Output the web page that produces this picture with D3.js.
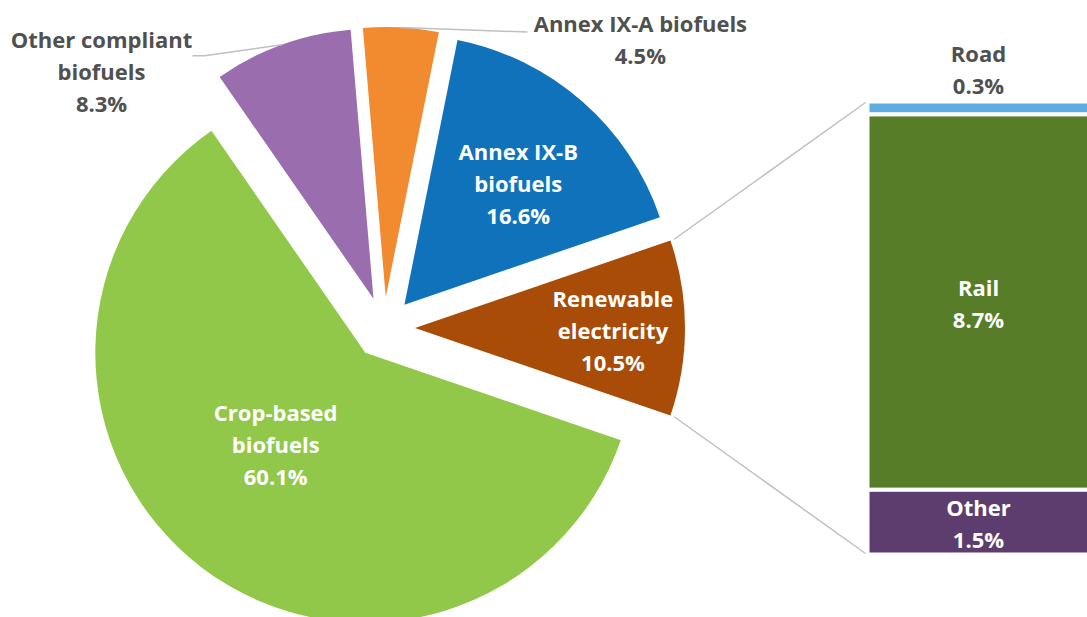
<!doctype html>
<html>
<head>
<meta charset="UTF-8">
<title>Pie of bar</title>
<script src="https://d3js.org/d3.v7.min.js"></script>
<style>
    body { margin: 0; background: #fff; }
    svg text { font-family: "Open Sans", sans-serif; font-weight: 700; font-size: 22px; }
</style>
</head>
<body>
<script>
    // pie data (clockwise, starting with the slice that is split out into the bar)
    var sliceNames = ["Renewable electricity", "Crop-based biofuels", "Other compliant biofuels", "Annex IX-A biofuels", "Annex IX-B biofuels"];
    var sliceValues = [10.5, 60.1, 8.3, 4.5, 16.6];
    var sliceLines = [["Renewable", "electricity"], ["Crop-based", "biofuels"], ["Other compliant", "biofuels"], ["Annex IX-A biofuels"], ["Annex IX-B", "biofuels"]];

    // bar data (top to bottom)
    var barNames = ["Road", "Rail", "Other"];
    var barValues = [0.3, 8.7, 1.5];

    var w = 1087, h = 617;
    var cx = 384, cy = 328, radius = 270, explode = 31;
    var lineH = 32;

    var sliceColors = {
        "Renewable electricity": "#a84c08",
        "Crop-based biofuels": "#92c84a",
        "Other compliant biofuels": "#9a6dae",
        "Annex IX-A biofuels": "#f28a30",
        "Annex IX-B biofuels": "#1172bc"
    };
    var barColors = { "Road": "#5dade0", "Rail": "#577d28", "Other": "#5d3d6d" };

    // label placement: polar from the exploded tip (angle deg, distance px)
    var labelPlace = {
        "Renewable electricity": { a: 91, r: 198, inside: true },
        "Crop-based biofuels": { a: 224, r: 129, inside: true },
        "Annex IX-B biofuels": { a: 43.3, r: 166, inside: true },
        "Other compliant biofuels": { a: 309.8, r: 354, inside: false, lead: [[91, -16.5], [103, -16.5]] },
        "Annex IX-A biofuels": { a: 44.7, r: 362, inside: false, lead: [[-113, -7.7]] }
    };

    var svg = d3.select("body").append("svg")
        .attr("width", w)
        .attr("height", h);

    var fullTotal = d3.sum(sliceValues);
    var start = Math.PI / 2 - Math.PI * sliceValues[0] / fullTotal;

    var pie = d3.pie().sort(null).value(function (d) { return d; })
        .startAngle(start).endAngle(start + 2 * Math.PI);
    var arcs = pie(sliceValues);
    var arc = d3.arc().innerRadius(0).outerRadius(radius);

    function polar(a, r) { return [Math.sin(a) * r, -Math.cos(a) * r]; }

    arcs.forEach(function (d, i) {
        var mid = (d.startAngle + d.endAngle) / 2;
        var off = polar(mid, explode);
        d.tip = [cx + off[0], cy + off[1]];
        d.mid = mid;
        d.name = sliceNames[i];
    });

    var slices = svg.append("g");
    slices.selectAll("path")
        .data(arcs)
        .enter()
        .append("path")
        .attr("transform", function (d) { return "translate(" + d.tip[0] + "," + d.tip[1] + ")"; })
        .attr("d", arc)
        .attr("fill", function (d) { return sliceColors[d.name]; });

    // bar
    var barTotal = d3.sum(barValues);
    var barX = 867.5, barW = 222;
    var y = d3.scaleLinear().domain([0, barTotal]).range([101.5, 554.5]);
    var cum = 0;
    var segs = barValues.map(function (v, i) {
        var s = { name: barNames[i], value: v, y0: cum, y1: cum + v };
        cum += v;
        return s;
    });

    svg.append("g").selectAll("rect")
        .data(segs)
        .enter()
        .append("rect")
        .attr("x", barX)
        .attr("y", function (d) { return y(d.y0); })
        .attr("width", barW)
        .attr("height", function (d) { return y(d.y1) - y(d.y0); })
        .attr("fill", function (d) { return barColors[d.name]; })
        .attr("stroke", "#fff")
        .attr("stroke-width", 4);

    // connector lines from the split slice to the bar
    var rs = arcs[0];
    var p1 = polar(rs.startAngle, radius + 4), p2 = polar(rs.endAngle, radius + 4);
    var conn = [
        [[rs.tip[0] + p1[0], rs.tip[1] + p1[1]], [barX - 2, y(0) + 1]],
        [[rs.tip[0] + p2[0], rs.tip[1] + p2[1]], [barX - 2, y(barTotal) - 1]]
    ];
    svg.append("g").selectAll("line")
        .data(conn)
        .enter()
        .append("line")
        .attr("x1", function (d) { return d[0][0]; })
        .attr("y1", function (d) { return d[0][1]; })
        .attr("x2", function (d) { return d[1][0]; })
        .attr("y2", function (d) { return d[1][1]; })
        .attr("stroke", "#c0c0c0")
        .attr("stroke-width", 1.5);

    function multiText(g, lines, x, yc, color) {
        var t = g.append("text")
            .attr("text-anchor", "middle")
            .attr("fill", color);
        lines.forEach(function (l, i) {
            t.append("tspan")
                .attr("x", x)
                .attr("y", yc + (i - (lines.length - 1) / 2) * lineH)
                .attr("dy", "0.36em")
                .text(l);
        });
    }

    // pie labels
    var labels = svg.append("g");
    arcs.forEach(function (d, i) {
        var p = labelPlace[d.name];
        var o = polar(p.a * Math.PI / 180, p.r);
        var lx = d.tip[0] + o[0], ly = d.tip[1] + o[1];
        var lines = sliceLines[i].slice();
        lines.push(d3.format(".1f")(sliceValues[i]) + "%");
        if (p.inside) {
            multiText(labels, lines, lx, ly, "#fff");
        } else {
            var m = polar(d.mid, radius);
            var pts = p.lead.map(function (q) { return [lx + q[0], ly + q[1]]; });
            pts.push([d.tip[0] + m[0], d.tip[1] + m[1]]);
            labels.append("path")
                .attr("d", d3.line()(pts))
                .attr("fill", "none")
                .attr("stroke", "#c0c0c0")
                .attr("stroke-width", 1.5);
            multiText(labels, lines, lx, ly, "#505050");
        }
    });

    // bar labels
    segs.forEach(function (s) {
        var lines = [s.name, d3.format(".1f")(s.value) + "%"];
        var xc = barX + barW / 2;
        if (s.name === "Road") {
            multiText(labels, lines, xc, y(s.y0) - 31, "#505050");
        } else {
            multiText(labels, lines, xc, (y(s.y0) + y(s.y1)) / 2 + 2, "#fff");
        }
    });
</script>
</body>
</html>
